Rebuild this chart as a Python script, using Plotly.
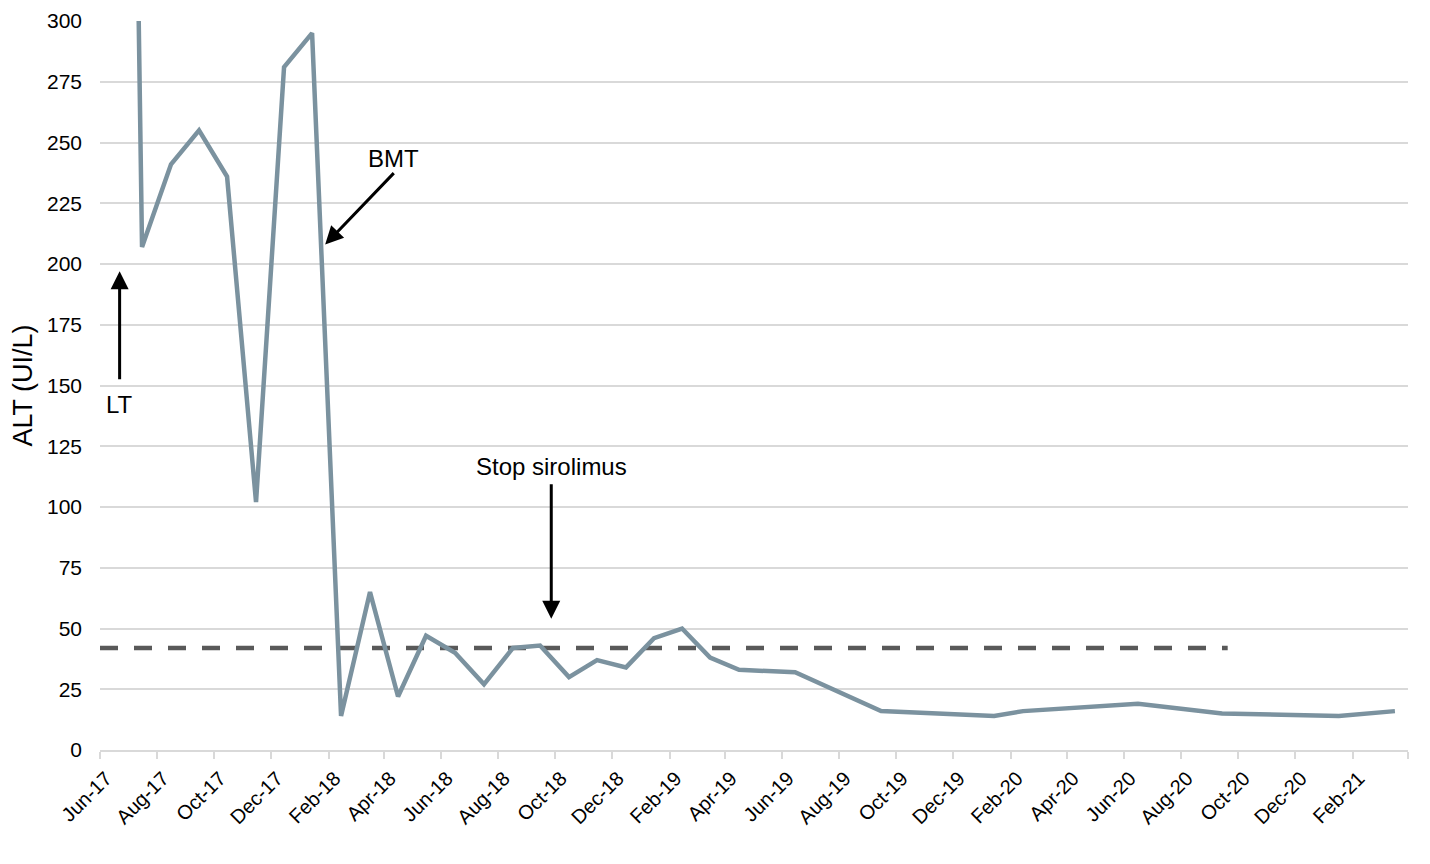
import plotly.graph_objects as go

# ---- data ----
dates = [
    "2017-07-09", "2017-07-16", "2017-08-16", "2017-09-15", "2017-10-15",
    "2017-11-15", "2017-12-15", "2018-01-14", "2018-02-14", "2018-03-17",
    "2018-04-16", "2018-05-16", "2018-06-16", "2018-07-17", "2018-08-17",
    "2018-09-15", "2018-10-16", "2018-11-15", "2018-12-16", "2019-01-15",
    "2019-02-14", "2019-03-16", "2019-04-16", "2019-06-15", "2019-09-15",
    "2020-01-14", "2020-02-14", "2020-06-16", "2020-09-14", "2020-12-10",
    "2021-01-17", "2021-03-18",
]
alt_values = [
    390, 207, 241, 255, 236,
    102, 281, 295, 14, 65,
    22, 47, 40, 27, 42,
    43, 30, 37, 34, 46,
    50, 38, 33, 32, 16,
    14, 16, 19, 15, 14,
    14, 16,
]
uln_dates = ["2017-06-01", "2020-09-20"]
uln_values = [42, 42]

tick_dates = [
    "2017-06-01", "2017-08-01", "2017-10-01", "2017-12-01", "2018-02-01",
    "2018-04-01", "2018-06-01", "2018-08-01", "2018-10-01", "2018-12-01",
    "2019-02-01", "2019-04-01", "2019-06-01", "2019-08-01", "2019-10-01",
    "2019-12-01", "2020-02-01", "2020-04-01", "2020-06-01", "2020-08-01",
    "2020-10-01", "2020-12-01", "2021-02-01", "2021-04-01",
]
tick_labels = [
    "Jun-17", "Aug-17", "Oct-17", "Dec-17", "Feb-18",
    "Apr-18", "Jun-18", "Aug-18", "Oct-18", "Dec-18",
    "Feb-19", "Apr-19", "Jun-19", "Aug-19", "Oct-19",
    "Dec-19", "Feb-20", "Apr-20", "Jun-20", "Aug-20",
    "Oct-20", "Dec-20", "Feb-21", "",
]
y_ticks = [0, 25, 50, 75, 100, 125, 150, 175, 200, 225, 250, 275, 300]

FONT = "Liberation Sans, Arial, Helvetica, sans-serif"

fig = go.Figure()
fig.add_trace(go.Scatter(
    x=uln_dates, y=uln_values, mode="lines",
    line=dict(color="#595959", width=4.5, dash="18px,16px"),
    hoverinfo="skip", showlegend=False,
))
fig.add_trace(go.Scatter(
    x=dates, y=alt_values, mode="lines",
    line=dict(color="#7B929F", width=4.5),
    showlegend=False,
))

arrow = dict(showarrow=True, arrowhead=2, arrowsize=1.2, arrowwidth=3,
             arrowcolor="#000000", axref="x", ayref="y", text="", standoff=0)
text_font = dict(family=FONT, size=24, color="#000000")

annotations = [
    dict(x="2017-06-22", y=197, ax="2017-06-22", ay=152, **arrow),
    dict(x="2018-01-28", y=208, ax="2018-04-13", ay=238, **arrow),
    dict(x="2018-09-27", y=54, ax="2018-09-27", ay=110, **arrow),
    dict(x="2017-06-22", y=142, text="LT", showarrow=False, font=text_font),
    dict(x="2018-04-11", y=243.5, text="BMT", showarrow=False, font=text_font),
    dict(x="2018-09-27", y=116.5, text="Stop sirolimus", showarrow=False, font=text_font),
]

fig.update_layout(
    width=1414, height=848,
    margin=dict(l=92, r=14, t=13, b=106),
    paper_bgcolor="white", plot_bgcolor="white",
    font=dict(family=FONT, color="#000000"),
    annotations=annotations,
    xaxis=dict(
        type="date",
        automargin=False,
        range=["2017-06-01", "2021-04-01"],
        tickvals=tick_dates, ticktext=tick_labels,
        tickangle=-45,
        tickfont=dict(family=FONT, size=20, color="#000000"),
        ticklabelshift=6,
        ticks="outside", ticklen=7, tickcolor="#d9d9d9", tickwidth=1.5,
        showgrid=False,
        showline=True, linecolor="#d9d9d9", linewidth=1.5,
        zeroline=False,
    ),
    yaxis=dict(
        automargin=False,
        range=[0, 300],
        tickvals=y_ticks,
        tickfont=dict(family=FONT, size=21, color="#000000"),
        ticks="", ticklabelstandoff=17,
        showgrid=True, gridcolor="#d9d9d9", gridwidth=1.5,
        showline=False, zeroline=False,
        title=dict(text="ALT (UI/L)", font=dict(family=FONT, size=27, color="#000000"), standoff=10),
    ),
)

fig.write_html("out.html")
